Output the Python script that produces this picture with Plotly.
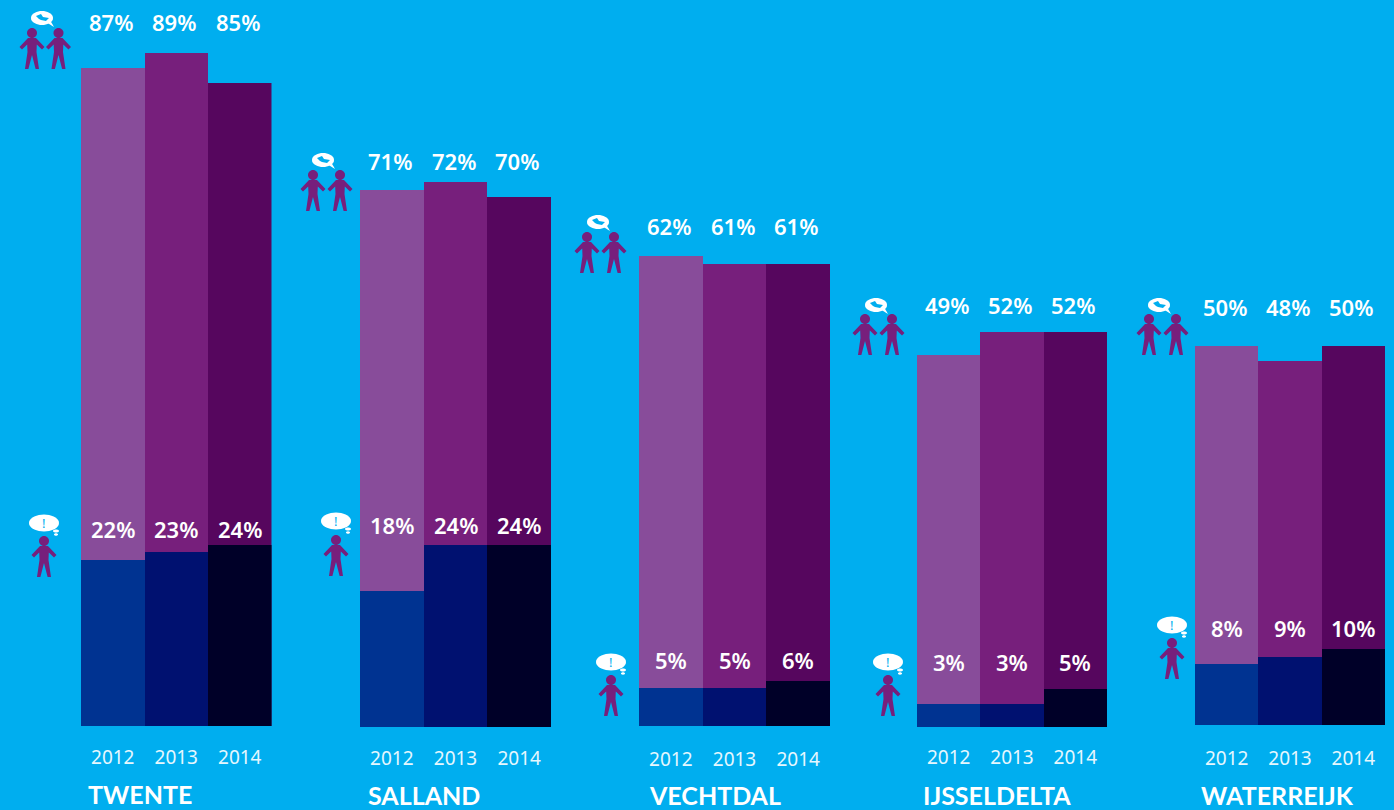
import math
import plotly.graph_objects as go

W, H = 1394, 810

years = ["2012", "2013", "2014"]
regions = ["TWENTE", "SALLAND", "VECHTDAL", "IJSSELDELTA", "WATERREIJK"]
talk_values = [[87, 89, 85], [71, 72, 70], [62, 61, 61], [49, 52, 52], [50, 48, 50]]
alert_values = [[22, 23, 24], [18, 24, 24], [5, 5, 6], [3, 3, 5], [8, 9, 10]]

talk_colors = ["#884C9A", "#771F7C", "#56065E"]
alert_colors = ["#003391", "#001170", "#000028"]
BG = "#00AEEF"
ICON = "#771F7C"
FONT = "Noto Sans"

# layout in pixels
x_left = [81, 360, 639, 917, 1195]
x_right = [271.5, 551, 830, 1107, 1385]
baseline = [726, 727, 726, 727, 725]
tick_len = [14, 14, 16, 13, 16]
px_per_pct = [7.56, 7.57, 7.58, 7.6, 7.58]
talk_label_y = [22, 161, 226, 305, 307]
alert_label_y = [529, 525, 660, 662, 628]
name_x = [88, 368, 649, 923, 1201]
name_y = [794, 795, 795, 795, 795]
pair_heads = [(32, 33, 58.5), (313, 175, 340), (587, 237, 614), (865, 319, 892), (1149, 319, 1176)]
pair_bubble = [(42, 18), (323, 160), (598, 222), (876, 305), (1159, 305)]
single_head = [(44, 541), (336, 540), (611, 680), (888, 680), (1172, 643)]
single_bubble = [(44, 523), (336, 521), (611, 662), (888, 662), (1172, 625)]


def px(x, y):
    return f"{x / W:.5f},{1 - y / H:.5f}"


def path(points, ox, oy):
    out = []
    for cmd, *pts in points:
        coords = " ".join(px(ox + pts[i], oy + pts[i + 1]) for i in range(0, len(pts), 2))
        out.append(f"{cmd}{coords}")
    return " ".join(out) + " Z"


def ellipse_path(cx, cy, rx, ry):
    pts = [(cx + rx * math.cos(a * math.pi / 18), cy + ry * math.sin(a * math.pi / 18)) for a in range(36)]
    return "M" + " L".join(px(x, y) for x, y in pts) + " Z"


def shape(p, color):
    return dict(type="path", xref="paper", yref="paper", path=p, fillcolor=color, line=dict(width=0), layer="above")


PERSON = [
    ("M", -4, 5), ("L", 4, 5), ("L", 12.5, 14), ("L", 10, 16.5), ("L", 4.8, 11.5), ("L", 4.5, 19),
    ("L", 7, 36), ("L", 3.6, 36), ("L", 0, 22), ("L", -3.6, 36), ("L", -7, 36), ("L", -4.5, 19),
    ("L", -4.8, 11.5), ("L", -10, 16.5), ("L", -12.5, 14),
]


def person(x, y):
    return [shape(ellipse_path(x, y, 5, 5), ICON), shape(path(PERSON, x, y), ICON)]


shapes, annotations = [], []
fig = go.Figure()

for i, region in enumerate(regions):
    suffix = "" if i == 0 else str(i + 1)
    xname, yname = f"x{suffix}", f"y{suffix}"
    fig.add_trace(go.Bar(x=years, y=talk_values[i], marker=dict(color=talk_colors, line=dict(width=0)),
                         xaxis=xname, yaxis=yname, showlegend=False, hoverinfo="x+y"))
    fig.add_trace(go.Bar(x=years, y=alert_values[i], marker=dict(color=alert_colors, line=dict(width=0)),
                         xaxis=xname, yaxis=yname, showlegend=False, hoverinfo="x+y"))
    y_range = baseline[i] / px_per_pct[i]
    fig.update_layout({
        f"xaxis{suffix}": dict(domain=[x_left[i] / W, x_right[i] / W], anchor=yname, type="category",
                               range=[-0.5, 2.5], showgrid=False, zeroline=False, showline=False,
                               ticks="outside", ticklen=tick_len[i], tickcolor="rgba(0,0,0,0)",
                               tickfont=dict(family=FONT, size=19, color="#E6F7FE")),
        f"yaxis{suffix}": dict(domain=[1 - baseline[i] / H, 1], anchor=xname, range=[0, y_range],
                               visible=False, fixedrange=True),
    })
    for j, year in enumerate(years):
        annotations.append(dict(x=j, xref=xname, y=1 - talk_label_y[i] / H, yref="paper",
                                text=f"{talk_values[i][j]}%", showarrow=False, yanchor="middle", xshift=-2,
                                font=dict(family=FONT, size=22, color="white", weight=600)))
        annotations.append(dict(x=j, xref=xname, y=1 - alert_label_y[i] / H, yref="paper",
                                text=f"{alert_values[i][j]}%", showarrow=False, yanchor="middle",
                                font=dict(family=FONT, size=22, color="white", weight=600)))
    annotations.append(dict(x=name_x[i] / W, xref="paper", y=1 - name_y[i] / H, yref="paper", text=region,
                            showarrow=False, xanchor="left", yanchor="middle", xshift=-2,
                            font=dict(family="Lato", size=25, color="white", weight="bold")))

    # two people with a speech bubble
    hx1, hy, hx2 = pair_heads[i]
    shapes += person(hx1, hy) + person(hx2, hy)
    bx, by = pair_bubble[i]
    shapes.append(shape(ellipse_path(bx, by, 11, 7), "white"))
    shapes.append(shape(path([("M", 4, 4), ("L", 12, 9), ("L", 8, 2)], bx, by), "white"))
    shapes.append(shape(path([("M", -6, -2), ("L", -1, -4), ("L", 1, -1), ("L", 7, 0), ("L", 4, 3),
                              ("L", -1, 2), ("L", -3, 1)], bx, by), BG))

    # one person with a thought bubble
    sx, sy = single_head[i]
    shapes += person(sx, sy)
    bx, by = single_bubble[i]
    shapes.append(shape(ellipse_path(bx, by, 15, 8.5), "white"))
    shapes.append(shape(ellipse_path(bx + 12, by + 8, 3, 1.5), "white"))
    shapes.append(shape(ellipse_path(bx + 12, by + 11.5, 2, 1.2), "white"))
    annotations.append(dict(x=bx / W, xref="paper", y=1 - by / H, yref="paper", text="!", showarrow=False,
                            xanchor="center", yanchor="middle",
                            font=dict(family=FONT, size=13, color=BG)))

fig.update_layout(
    width=W, height=H, autosize=False, margin=dict(l=0, r=0, t=0, b=0),
    paper_bgcolor=BG, plot_bgcolor=BG, barmode="overlay", bargap=0,
    shapes=shapes, annotations=annotations, showlegend=False,
    font=dict(family=FONT),
)

fig.write_html("out.html", config=dict(displayModeBar=False),
               post_script="document.body.style.margin='0';document.body.style.background='#00AEEF';"
                           "document.documentElement.style.overflow='hidden';")
